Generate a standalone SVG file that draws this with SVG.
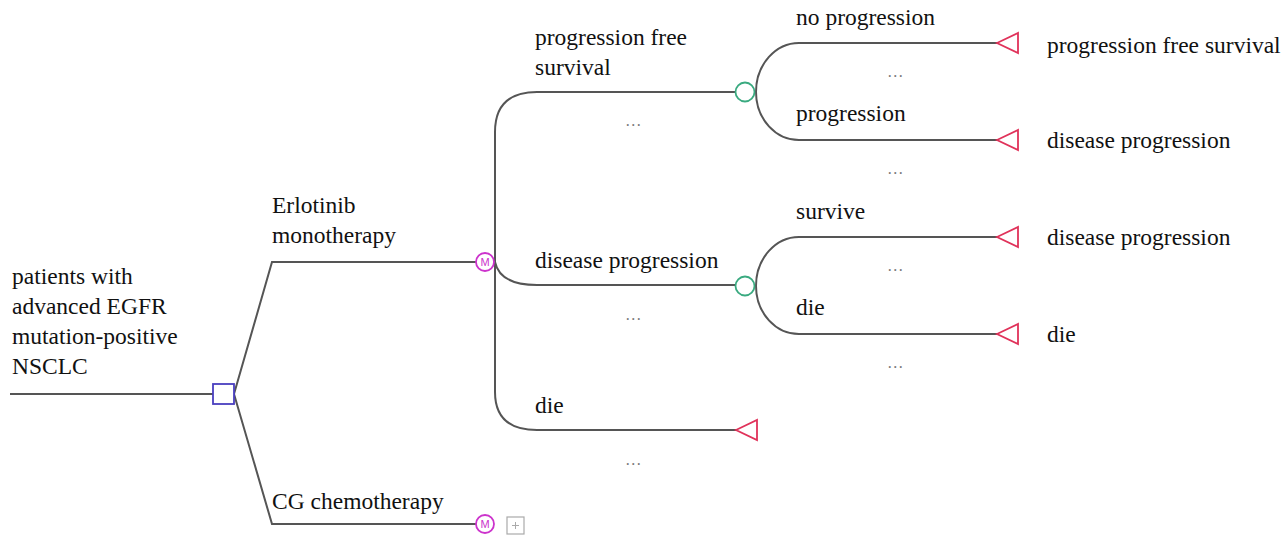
<svg xmlns="http://www.w3.org/2000/svg" width="1286" height="539" viewBox="0 0 1286 539">
<style>
.ln{fill:none;stroke:#555;stroke-width:2}
.t{font-family:"Liberation Serif","Times New Roman",serif;font-size:23.5px;fill:#111}
.dots{font-family:"Liberation Serif",serif;font-size:16px;fill:#777;text-anchor:middle;letter-spacing:1.5px}
.term{fill:#fff;stroke:#e0325a;stroke-width:1.8}
.chance{fill:#fff;stroke:#3aaa80;stroke-width:1.8}
.markov{fill:#fff;stroke:#cc33cc;stroke-width:1.8}
.mk{font-family:"Liberation Sans",sans-serif;font-size:11px;fill:#cc33cc;text-anchor:middle}
</style>
<rect width="1286" height="539" fill="#fff"/>
<g id="connectors">
<path class="ln" d="M10,394 L213,394"/>
<path class="ln" d="M234,394 L272,262 L476,262"/>
<path class="ln" d="M234,394 L272,524 L476,524"/>
<path class="ln" d="M495,262 L495,132 Q495,92 537,92 L736,92"/>
<path class="ln" d="M495,262 Q500,285 537,285 L736,285"/>
<path class="ln" d="M495,262 L495,392 Q495,430 537,430 L737,430"/>
<path class="ln" d="M800,43 A43 49 0 0 0 756 92 A43 48 0 0 0 800 140"/>
<path class="ln" d="M800,43 L997,43 M800,140 L997,140"/>
<path class="ln" d="M800,237 A43 49 0 0 0 756 286 A43 48 0 0 0 800 334"/>
<path class="ln" d="M800,237 L997,237 M800,334 L997,334"/>
</g>
<g id="root">
<text class="t" x="12" y="284">patients with</text>
<text class="t" x="12" y="314">advanced EGFR</text>
<text class="t" x="12" y="344">mutation-positive</text>
<text class="t" x="12" y="374">NSCLC</text>
<rect x="213" y="384" width="21" height="20" fill="#fff" stroke="#4a3fbf" stroke-width="1.8"/>
</g>
<g id="erlotinib">
<text class="t" x="272" y="213">Erlotinib</text>
<text class="t" x="272" y="243">monotherapy</text>
<circle class="markov" cx="485" cy="262" r="9"/>
<text class="mk" x="485" y="266">M</text>
</g>
<g id="chemo">
<text class="t" x="272" y="509">CG chemotherapy</text>
<circle class="markov" cx="485" cy="524" r="9"/>
<text class="mk" x="485" y="528">M</text>
<rect x="507" y="517" width="17" height="17" fill="#fff" stroke="#aaa" stroke-width="1.2"/>
<path d="M512,525.5 L519,525.5 M515.5,522 L515.5,529" stroke="#aaa" stroke-width="1"/>
</g>
<g id="pfs">
<text class="t" x="535" y="45">progression free</text>
<text class="t" x="535" y="75">survival</text>
<circle class="chance" cx="745" cy="92" r="9.5"/>
<text class="dots" x="634" y="126">...</text>
</g>
<g id="dp">
<text class="t" x="535" y="268">disease progression</text>
<circle class="chance" cx="745" cy="286" r="9.5"/>
<text class="dots" x="634" y="320">...</text>
</g>
<g id="die1">
<text class="t" x="535" y="413">die</text>
<polygon class="term" points="736,430 757,420 757,440"/>
<text class="dots" x="634" y="465">...</text>
</g>
<g id="noprog">
<text class="t" x="796" y="25">no progression</text>
<polygon class="term" points="997,43 1018,33 1018,53"/>
<text class="t" x="1047" y="53">progression free survival</text>
<text class="dots" x="896" y="77">...</text>
</g>
<g id="prog">
<text class="t" x="796" y="121">progression</text>
<polygon class="term" points="997,140 1018,130 1018,150"/>
<text class="t" x="1047" y="148">disease progression</text>
<text class="dots" x="896" y="174">...</text>
</g>
<g id="survive">
<text class="t" x="796" y="219">survive</text>
<polygon class="term" points="997,237 1018,227 1018,247"/>
<text class="t" x="1047" y="245">disease progression</text>
<text class="dots" x="896" y="271">...</text>
</g>
<g id="die2">
<text class="t" x="796" y="315">die</text>
<polygon class="term" points="997,334 1018,324 1018,344"/>
<text class="t" x="1047" y="342">die</text>
<text class="dots" x="896" y="368">...</text>
</g>
</svg>
